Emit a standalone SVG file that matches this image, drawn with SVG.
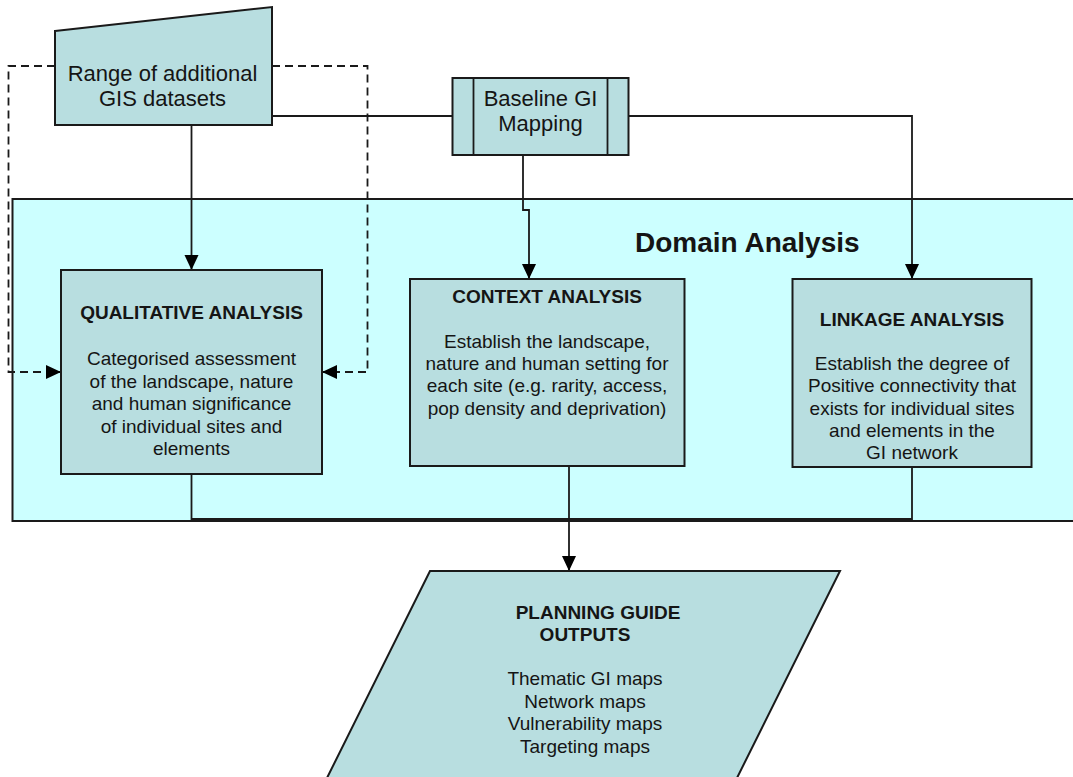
<svg xmlns="http://www.w3.org/2000/svg" width="1073" height="777" viewBox="0 0 1073 777">
  <style>
    .node { fill: #B8DEE0; stroke: #1a1a1a; stroke-width: 2; }
    .domain { fill: #CCFFFF; stroke: #1a1a1a; stroke-width: 2; }
    .conn { fill: none; stroke: #1a1a1a; stroke-width: 1.8; }
    .dash { stroke-dasharray: 8 5; }
    text { font-family: "Liberation Sans", Arial, sans-serif; fill: #151515; text-anchor: middle; }
    .top { font-size: 22px; }
    .body { font-size: 19px; }
    .head { font-size: 19px; font-weight: bold; }
    .title { font-size: 28px; font-weight: bold; text-anchor: start; }
  </style>
  <defs>
    <marker id="arrow" markerUnits="userSpaceOnUse" markerWidth="16" markerHeight="16" refX="15" refY="8" orient="auto">
      <path d="M0,1 L15,8 L0,15 z" fill="#000"/>
    </marker>
  </defs>

  <rect width="1073" height="777" fill="#ffffff"/>

  <!-- Domain Analysis container -->
  <g id="domain-analysis">
    <rect class="domain" x="12.5" y="199" width="1075" height="322"/>
    <text class="title" x="635" y="252">Domain Analysis</text>
  </g>

  <!-- connectors -->
  <g id="connectors">
    <path class="conn" d="M272,116 H452"/>
    <path class="conn" d="M629,116 H912 V279" marker-end="url(#arrow)"/>
    <path class="conn" d="M523,148 V210 H529 V279" marker-end="url(#arrow)"/>
    <path class="conn" d="M191.5,125 V270" marker-end="url(#arrow)"/>
    <path class="conn dash" d="M55,66 H8.5 V372 H61" marker-end="url(#arrow)"/>
    <path class="conn dash" d="M272,66 H367.5 V372 H322" marker-end="url(#arrow)"/>
    <path class="conn" d="M191.5,474 V519 H912 V467"/>
    <path class="conn" d="M569,466 V571" marker-end="url(#arrow)"/>
  </g>

  <g id="gis-datasets">
    <polygon class="node" points="55,31 272,7 272,125 55,125"/>
    <text class="top" x="162.5" y="81">Range of additional</text>
    <text class="top" x="162.5" y="106">GIS datasets</text>
  </g>

  <g id="baseline-mapping">
    <rect class="node" x="452.5" y="78" width="176" height="77"/>
    <line class="conn" x1="473.5" y1="78" x2="473.5" y2="155"/>
    <line class="conn" x1="607.5" y1="78" x2="607.5" y2="155"/>
    <text class="top" x="540.5" y="106">Baseline GI</text>
    <text class="top" x="540.5" y="131">Mapping</text>
  </g>

  <g id="qualitative-analysis">
    <rect class="node" x="61" y="270" width="261" height="204"/>
    <text class="head" x="191.5" y="319">QUALITATIVE ANALYSIS</text>
    <text class="body" x="191.5" y="365">Categorised assessment</text>
    <text class="body" x="191.5" y="387.5">of the landscape, nature</text>
    <text class="body" x="191.5" y="410">and human significance</text>
    <text class="body" x="191.5" y="432.5">of individual sites and</text>
    <text class="body" x="191.5" y="455">elements</text>
  </g>

  <g id="context-analysis">
    <rect class="node" x="410" y="279" width="274.5" height="187"/>
    <text class="head" x="547" y="303">CONTEXT ANALYSIS</text>
    <text class="body" x="547" y="347.5">Establish the landscape,</text>
    <text class="body" x="547" y="369.5">nature and human setting for</text>
    <text class="body" x="547" y="392">each site (e.g. rarity, access,</text>
    <text class="body" x="547" y="414.5">pop density and deprivation)</text>
  </g>

  <g id="linkage-analysis">
    <rect class="node" x="792.5" y="279" width="239" height="188"/>
    <text class="head" x="912" y="326">LINKAGE ANALYSIS</text>
    <text class="body" x="912" y="369.5">Establish the degree of</text>
    <text class="body" x="912" y="392">Positive connectivity that</text>
    <text class="body" x="912" y="414.5">exists for individual sites</text>
    <text class="body" x="912" y="437">and elements in the</text>
    <text class="body" x="912" y="459">GI network</text>
  </g>

  <g id="planning-outputs">
    <polygon class="node" points="430,571 840,571 730,792 320,792"/>
    <text class="head" x="598" y="618.5">PLANNING GUIDE</text>
    <text class="head" x="585" y="641">OUTPUTS</text>
    <text class="body" x="585" y="685">Thematic GI maps</text>
    <text class="body" x="585" y="707.5">Network maps</text>
    <text class="body" x="585" y="730">Vulnerability maps</text>
    <text class="body" x="585" y="752.5">Targeting maps</text>
  </g>
</svg>
